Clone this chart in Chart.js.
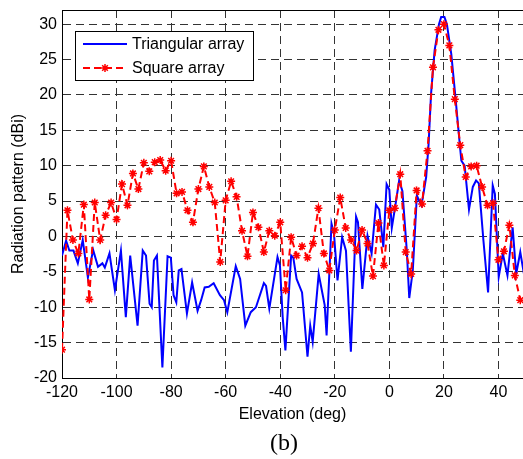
<!DOCTYPE html>
<html>
<head>
<meta charset="utf-8">
<script src="https://cdn.jsdelivr.net/npm/chart.js@4.4.0/dist/chart.umd.min.js"></script>
<style>
  html, body { margin: 0; padding: 0; background: #fff; }
</style>
</head>
<body>
<canvas id="radChart" width="523" height="459"></canvas>
<script>
// Triangular array (blue, solid) - angle / gain pairs
const triAngles = [-120, -118.5, -117.3, -115.8, -114.2, -112.4, -110.5, -108.6, -106.8, -105.2,
  -104.3, -102.6, -100.6, -98.4, -96.6, -95.0, -92.3, -90.4, -89.2, -87.9,
  -87.1, -86.3, -85.2, -83.2, -81.3, -80.1, -79.1, -78.1, -77.2, -76.2,
  -74.2, -72.3, -70.3, -69.0, -67.7, -66.2, -64.4, -62.1, -60.6, -59.4,
  -56.3, -54.7, -52.8, -50.8, -48.9, -46.0, -45.2, -44.0, -41.0, -40.1,
  -39.1, -38.1, -36.0, -35.2, -34.0, -32.0, -30.0, -29.0, -28.1, -25.9,
  -23.7, -23.0, -21.2, -20.3, -19.0, -17.3, -15.9, -14.1, -12.2, -11.5,
  -9.9, -8.0, -6.5, -4.9, -3.7, -2.2, -1.0, 0.0, 0.9, 2.1,
  3.6, 4.8, 6.4, 7.3, 8.6, 10.1, 11.0, 11.8, 13.5, 14.4,
  15.3, 16.6, 18.2, 19.0, 20.2, 21.1, 22.7, 24.3, 25.8, 26.4,
  27.6, 29.2, 30.6, 31.8, 32.8, 34.5, 36.2, 37.9, 38.7, 40.1,
  41.6, 43.3, 45.2, 46.5, 48.0, 49.3];
const triGain = [-2.7, -0.6, -2.0, -2.0, -3.8, -0.5, -5.8, -1.9, -4.3, -3.8,
  -4.4, -2.4, -7.6, -2.0, -11.4, -2.7, -12.6, -2.0, -2.7, -9.5,
  -10.0, -3.4, -2.7, -18.5, -2.8, -3.0, -8.3, -9.3, -4.8, -4.6,
  -10.9, -6.5, -10.5, -9.0, -7.2, -7.1, -6.6, -8.3, -9.0, -10.7,
  -4.2, -6.0, -12.6, -10.7, -10.0, -6.6, -7.0, -10.2, -2.9, -4.1,
  -11.4, -16.1, -2.7, -3.0, -6.0, -7.9, -17.0, -12.6, -14.9, -5.3,
  -9.7, -14.0, 1.8, 0.4, -6.2, -0.1, -2.0, -16.3, 2.8, 2.0,
  -7.4, 0.1, -2.4, 4.5, 3.8, -1.5, 7.4, 6.6, 1.2, 4.1,
  7.9, 6.4, -2.0, -8.7, -4.8, 5.8, 5.0, 4.4, 8.4, 13.1,
  20.2, 26.3, 30.0, 31.0, 31.0, 30.0, 25.8, 19.4, 13.1, 10.7,
  10.0, 3.8, 7.0, 7.9, 7.5, -0.6, -7.9, 7.2, 6.0, -5.7,
  -2.4, -5.5, 1.3, -5.3, -2.2, -5.2];

// Square array (red, dashed with markers) - every 2 deg
const sqAngles = [-120, -118, -116, -114, -112, -110, -108, -106, -104, -102,
  -100, -98, -96, -94, -92, -90, -88, -86, -84, -82,
  -80, -78, -76, -74, -72, -70, -68, -66, -64, -62,
  -60, -58, -56, -54, -52, -50, -48, -46, -44, -42,
  -40, -38, -36, -34, -32, -30, -28, -26, -24, -22,
  -20, -18, -16, -14, -12, -10, -8, -6, -4, -2,
  0, 2, 4, 6, 8, 10, 12, 14, 16, 18,
  20, 22, 24, 26, 28, 30, 32, 34, 36, 38,
  40, 42, 44, 46, 48];
const sqGain = [-16, 3.7, -0.5, -2.4, 4.5, -8.9, 4.8, -0.5, 3.0, 4.8,
  2.4, 7.4, 4.4, 8.9, 6.7, 10.4, 9.2, 10.5, 10.8, 9.3,
  10.7, 6.1, 6.3, 3.7, 2.0, 6.7, 9.9, 7.0, 4.8, -3.6,
  5.1, 7.8, 5.6, 0.8, -2.8, 3.4, 1.3, -2.2, 0.8, 0.1,
  2.0, -7.6, -0.1, -2.7, -1.4, -3.0, -1.0, 4.0, -2.4, -4.8,
  0.9, 5.5, 1.2, -0.5, -2.0, 0.9, -1.0, -5.6, 1.9, -4.1,
  3.7, 4.0, 8.8, -2.2, -5.3, 6.5, 4.6, 12.1, 23.9, 29.2,
  30.0, 27.0, 19.4, 12.9, 8.4, 9.9, 10.0, 7.0, 4.4, 4.7,
  -3.3, -2.1, 1.6, -5.5, -9.0];

const seriesNames = ['Triangular array', 'Square array'];

const FONT = 'Liberation Sans, Arial, sans-serif';

function toPoints(xs, ys) {
    return xs.map((x, i) => ({ x: x, y: ys[i] }));
}

// top frame line (matlab box)
const frameTop = {
    id: 'frameTop',
    afterDraw(chart) {
        const { ctx, chartArea } = chart;
        ctx.save();
        ctx.strokeStyle = '#000';
        ctx.lineWidth = 1;
        ctx.beginPath();
        ctx.moveTo(chartArea.left, chartArea.top + 0.5);
        ctx.lineTo(chartArea.right, chartArea.top + 0.5);
        ctx.stroke();
        ctx.restore();
    }
};

// legend box drawn inside the plot, upper left
const boxLegend = {
    id: 'boxLegend',
    afterDraw(chart) {
        const ctx = chart.ctx;
        const x0 = 75, y0 = 31, w = 178, h = 49;
        ctx.save();
        ctx.fillStyle = '#fff';
        ctx.fillRect(x0, y0, w, h);
        ctx.strokeStyle = '#000';
        ctx.lineWidth = 1;
        ctx.strokeRect(x0 + 0.5, y0 + 0.5, w, h);
        chart.data.datasets.forEach((ds, i) => {
            const y = y0 + 13 + i * 24;
            ctx.strokeStyle = ds.borderColor;
            ctx.lineWidth = ds.borderWidth;
            ctx.setLineDash(ds.borderDash || []);
            ctx.beginPath();
            ctx.moveTo(83, y);
            ctx.lineTo(127, y);
            ctx.stroke();
            ctx.setLineDash([]);
            if (ds.pointRadius > 0) {
                ctx.strokeStyle = ds.pointBorderColor;
                ctx.lineWidth = ds.pointBorderWidth;
                Chart.helpers.drawPoint(ctx, {
                    pointStyle: ds.pointStyle, radius: ds.pointRadius,
                    borderWidth: ds.pointBorderWidth
                }, 105, y);
            }
            ctx.fillStyle = '#000';
            ctx.font = '16px ' + FONT;
            ctx.textBaseline = 'middle';
            ctx.textAlign = 'left';
            ctx.fillText(ds.label, 132, y + 1);
        });
        ctx.restore();
    }
};

// "(b)" caption under the axis title
const caption = {
    id: 'caption',
    afterDraw(chart) {
        const ctx = chart.ctx;
        ctx.save();
        ctx.fillStyle = '#000';
        ctx.font = '24px Liberation Serif, Times New Roman, serif';
        ctx.textAlign = 'center';
        ctx.textBaseline = 'middle';
        ctx.fillText('(b)', 284, 444);
        ctx.restore();
    }
};

const ctx = document.getElementById('radChart');

new Chart(ctx, {
    type: 'line',
    data: {
        datasets: [{
            label: seriesNames[0],
            data: toPoints(triAngles, triGain),
            borderColor: '#0000ff',
            backgroundColor: '#0000ff',
            borderWidth: 2,
            pointRadius: 0,
            tension: 0,
            order: 1
        }, {
            label: seriesNames[1],
            data: toPoints(sqAngles, sqGain),
            borderColor: '#ff0000',
            backgroundColor: '#ff0000',
            borderWidth: 2,
            borderDash: [7, 4],
            pointStyle: 'star',
            pointRadius: 4,
            pointBorderWidth: 1.5,
            pointBorderColor: '#ff0000',
            tension: 0,
            order: 0
        }]
    },
    options: {
        responsive: false,
        animation: false,
        layout: { autoPadding: false, padding: { top: 10, right: 0, bottom: 0, left: 0 } },
        plugins: {
            legend: { display: false },
            tooltip: { enabled: false }
        },
        scales: {
            x: {
                type: 'linear',
                min: -120,
                max: 49,
                afterFit(scale) {
                    scale.height = 81;
                    scale.paddingLeft = 0;
                    scale.paddingRight = 0;
                },
                ticks: {
                    stepSize: 20,
                    includeBounds: false,
                    color: '#000',
                    padding: 5,
                    maxRotation: 0,
                    font: { family: FONT, size: 16 }
                },
                grid: { color: '#333', lineWidth: 1, drawTicks: false },
                border: { color: '#000', width: 1, dash: [8, 5] },
                title: {
                    display: true,
                    text: 'Elevation (deg)',
                    color: '#000',
                    font: { family: FONT, size: 16 },
                    padding: { top: 0, bottom: 35 }
                }
            },
            y: {
                min: -20,
                max: 32,
                afterFit(scale) {
                    scale.width = 62;
                    scale.paddingTop = 0;
                    scale.paddingBottom = 0;
                },
                ticks: {
                    stepSize: 5,
                    includeBounds: false,
                    color: '#000',
                    padding: 5,
                    font: { family: FONT, size: 16 }
                },
                grid: { color: '#333', lineWidth: 1, drawTicks: false },
                border: { color: '#000', width: 1, dash: [8, 5] },
                title: {
                    display: true,
                    text: 'Radiation pattern (dBi)',
                    color: '#000',
                    font: { family: FONT, size: 16 },
                    padding: { top: 9, bottom: 0 }
                }
            }
        }
    },
    plugins: [frameTop, boxLegend, caption]
});
</script>
</body>
</html>
